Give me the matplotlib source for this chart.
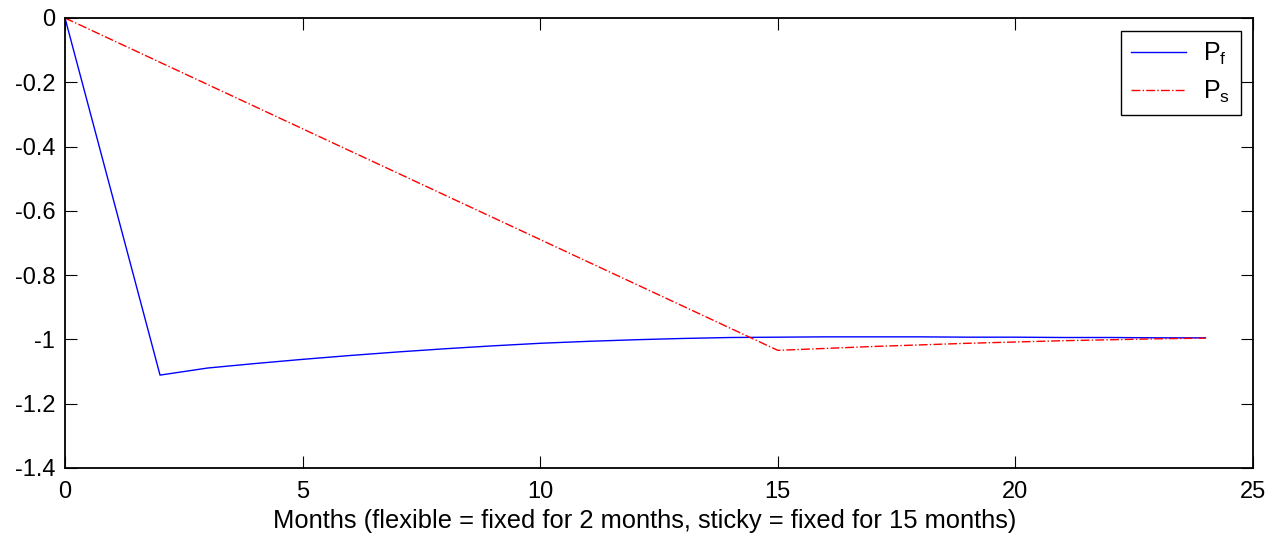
import matplotlib
matplotlib.use("Agg")
import matplotlib.pyplot as plt

months = list(range(0, 25))
p_flex = [0.0, -0.555, -1.111, -1.089, -1.075, -1.062, -1.050, -1.039, -1.029, -1.020,
          -1.012, -1.006, -1.001, -0.997, -0.994, -0.993, -0.992, -0.992, -0.992, -0.993,
          -0.993, -0.994, -0.994, -0.995, -0.995]
p_sticky = [0.0, -0.0689, -0.1379, -0.2068, -0.2757, -0.3447, -0.4136, -0.4825, -0.5515, -0.6204,
            -0.6893, -0.7583, -0.8272, -0.8961, -0.9651, -1.034, -1.028, -1.022, -1.017, -1.012,
            -1.008, -1.004, -1.001, -0.998, -0.996]
xticks = [0, 5, 10, 15, 20, 25]
yticks = [0, -0.2, -0.4, -0.6, -0.8, -1, -1.2, -1.4]
ytick_labels = ['0', '-0.2', '-0.4', '-0.6', '-0.8', '-1', '-1.2', '-1.4']

plt.rcParams['font.family'] = ['Liberation Sans', 'DejaVu Sans']
plt.rcParams['mathtext.fontset'] = 'custom'
plt.rcParams['mathtext.rm'] = 'Liberation Sans'
plt.rcParams['mathtext.it'] = 'Liberation Sans'

fig = plt.figure(figsize=(12.85, 5.41), dpi=100)
ax = fig.add_axes([65/1285, 1 - 468/541, (1253-65)/1285, (468-18)/541])
ax.plot(months, p_flex, color='#0000ff', lw=1.0, label=r'$\mathregular{P_f}$')
ax.plot(months, p_sticky, color='#ff0000', lw=1.0, ls='-.', label=r'$\mathregular{P_s}$')
ax.set_xlim(0, 25)
ax.set_ylim(-1.4, 0)
ax.set_xticks(xticks)
ax.set_yticks(yticks)
ax.set_yticklabels(ytick_labels)
ax.tick_params(direction='in', top=True, right=True, length=8.6, width=0.8, labelsize=17)
ax.tick_params(axis='x', pad=9)
ax.tick_params(axis='y', pad=7)
for s in ax.spines.values():
    s.set_linewidth(1.3)
ax.set_xlabel('Months (flexible = fixed for 2 months, sticky = fixed for 15 months)', fontsize=18.4)
ax.xaxis.set_label_coords(0.488, -0.092, transform=ax.transAxes)
ax.xaxis.label.set_verticalalignment('top')
leg = ax.legend(loc='upper right', fontsize=18, fancybox=False, framealpha=1,
                edgecolor='black', borderaxespad=0.5, handlelength=2.2,
                labelspacing=0.5, borderpad=0.4, handletextpad=0.7)
leg.get_frame().set_linewidth(1.0)
fig.savefig('out.png', dpi=100)
